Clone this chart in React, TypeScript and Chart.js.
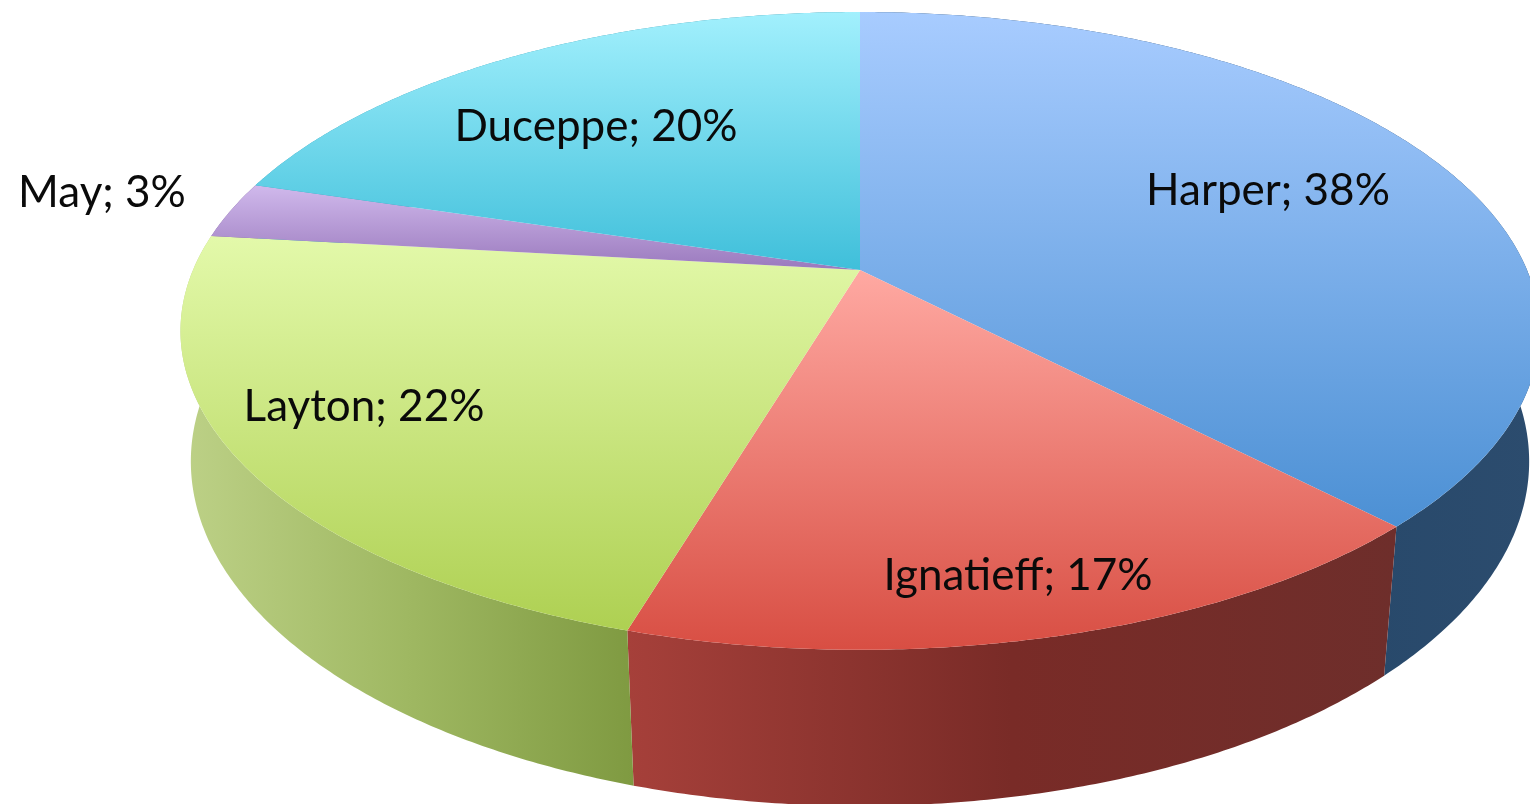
import React, { useEffect, useRef } from "react";
import { Chart, registerables } from "chart.js";

Chart.register(...registerables);

const categories = ["Harper", "Ignatieff", "Layton", "May", "Duceppe"];
const shares = [37.8, 16.8, 22.2, 2.9, 20.3];

const faceTop = ["#a8ccff", "#ffa9a2", "#e3f9aa", "#d0b9ec", "#a2f0fd"];
const faceBottom = ["#4c90d4", "#d84e43", "#aed052", "#9a79bd", "#3fbfda"];
const wallLeft = ["#1e4366", "#a6403a", "#bdd187", "#8a6ca8", "#35a0b8"];
const wallMid = ["#244668", "#792b27", "#9fb862", "#7a5e98", "#3095ac"];
const wallRight = ["#2c4c6e", "#6e2e2b", "#7f9a41", "#6a5088", "#2c8aa0"];
const labelCentres = [
  [1268, 205],
  [1018, 590],
  [364, 421],
  [102, 207],
  [596, 141],
];

// Perspective of the pie's two discs: unit circle -> screen
const CX = 860;
const project = (a: number, rx: number, ry: number, cy: number, k: number) => {
  const u = Math.cos(a), v = Math.sin(a), d = 1 + k * v;
  return [CX + (rx * u) / d, (cy + ry * v) / d];
};
const APEX_Y = 270;
const top = (a: number) => project(a, 667, 255.7, APEX_Y, -0.191);
const bottom = (a: number) => project(a, 658.4, 262, 400, -0.1786);

const perspectivePie = {
  id: "perspectivePie",
  beforeDatasetDraw(chart: any) {
    const ctx: CanvasRenderingContext2D = chart.ctx;
    const arcs = chart.getDatasetMeta(0).data;
    const steps = (e: any) => Math.max(8, Math.ceil((e.endAngle - e.startAngle) * 120));

    // side walls
    arcs.forEach((e: any, i: number) => {
      const n = steps(e);
      const outer: number[][] = [], inner: number[][] = [];
      for (let s = 0; s <= n; s++) {
        const a = e.startAngle + ((e.endAngle - e.startAngle) * s) / n;
        outer.push(top(a));
        inner.push(bottom(a));
      }
      const pts = outer.concat(inner.reverse());
      const xs = pts.map((p) => p[0]);
      const g = ctx.createLinearGradient(Math.min(...xs), 0, Math.max(...xs), 0);
      g.addColorStop(0, wallLeft[i]);
      g.addColorStop(0.5, wallMid[i]);
      g.addColorStop(1, wallRight[i]);
      ctx.beginPath();
      pts.forEach((p, j) => (j ? ctx.lineTo(p[0], p[1]) : ctx.moveTo(p[0], p[1])));
      ctx.closePath();
      ctx.fillStyle = g;
      ctx.fill();
    });

    // top faces
    arcs.forEach((e: any, i: number) => {
      const n = steps(e);
      const pts: number[][] = [[CX, APEX_Y]];
      for (let s = 0; s <= n; s++) pts.push(top(e.startAngle + ((e.endAngle - e.startAngle) * s) / n));
      const ys = pts.map((p) => p[1]);
      const g = ctx.createLinearGradient(0, Math.min(...ys), 0, Math.max(...ys));
      g.addColorStop(0, faceTop[i]);
      g.addColorStop(1, faceBottom[i]);
      ctx.beginPath();
      pts.forEach((p, j) => (j ? ctx.lineTo(p[0], p[1]) : ctx.moveTo(p[0], p[1])));
      ctx.closePath();
      ctx.fillStyle = g;
      ctx.fill();
    });

    // labels
    ctx.save();
    ctx.font = '44px Lato, "Open Sans", sans-serif';
    ctx.textAlign = "center";
    ctx.textBaseline = "alphabetic";
    ctx.fillStyle = "#0a0a0a";
    (ctx as any).filter = "blur(0.6px)";
    categories.forEach((c, i) => {
      ctx.fillText(`${c}; ${Math.round(shares[i])}%`, labelCentres[i][0], labelCentres[i][1]);
    });
    ctx.restore();
    return false;
  },
};

export default function App() {
  const ref = useRef<HTMLCanvasElement>(null);
  useEffect(() => {
    document.body.style.margin = "0";
    document.body.style.background = "#fff";
    const chart = new Chart(ref.current!, {
      type: "pie",
      data: { labels: categories, datasets: [{ data: shares, backgroundColor: faceBottom, borderWidth: 0 }] },
      options: {
        animation: false,
        responsive: false,
        devicePixelRatio: 1,
        plugins: { legend: { display: false }, tooltip: { enabled: false }, title: { display: false } },
      },
      plugins: [perspectivePie],
    } as any);
    return () => chart.destroy();
  }, []);
  return (
    <canvas
      ref={ref}
      width={1530}
      height={804}
      style={{ display: "block", width: 1530, height: 804 }}
    />
  );
}
